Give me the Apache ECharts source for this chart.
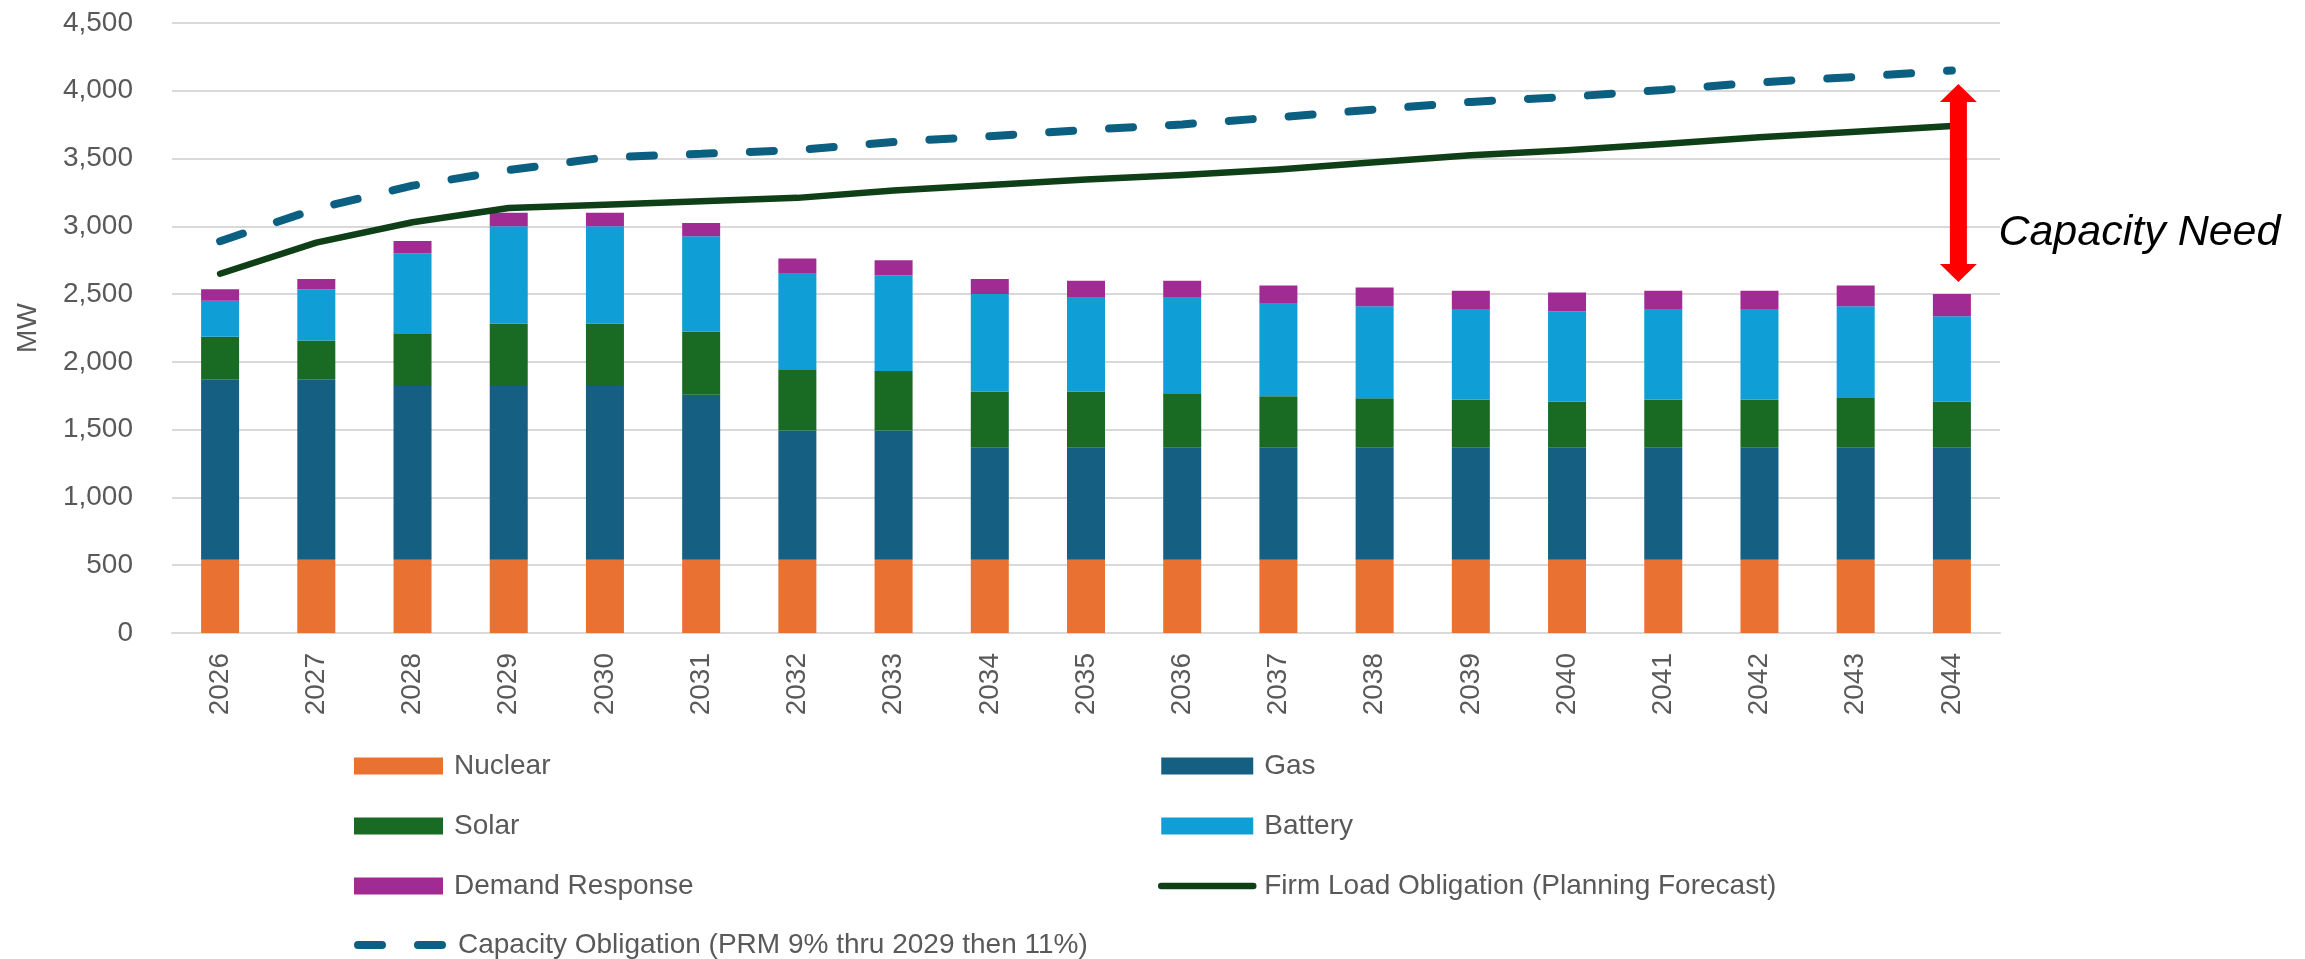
<!DOCTYPE html>
<html>
<head>
<meta charset="utf-8">
<title>Capacity Need</title>
<script src="https://cdn.jsdelivr.net/npm/echarts@6/dist/echarts.min.js"></script>
<style>
  html, body { margin: 0; padding: 0; background: #ffffff; }
  #chart { width: 2305px; height: 959px; }
</style>
</head>
<body>
<div id="chart"></div>
<script>
// Planning years on the category axis
const years = ['2026','2027','2028','2029','2030','2031','2032','2033','2034','2035',
               '2036','2037','2038','2039','2040','2041','2042','2043','2044'];

// Accredited capacity by resource type (MW, stacked)
const nuclear = [540,540,540,540,540,540,540,540,540,540,540,540,540,540,540,540,540,540,540];
const gas     = [1332,1332,1282,1282,1282,1217,954,954,826,826,826,826,826,826,826,826,826,826,826];
const solar   = [314,286,389,462,462,467,452,438,416,416,402,380,366,354,342,354,354,368,342];
const battery = [265,378,590,717,717,703,705,705,719,691,705,689,678,664,664,664,664,677,629];
const demandResponse = [85,76,90,100,100,98,112,112,111,126,126,128,139,140,140,140,140,152,163];

// Obligations (MW)
const firmLoad = [2650,2880,3030,3135,3160,3185,3210,3265,3305,3345,3378,3420,3472,3525,3562,3608,3658,3698,3740];
const capacityObligation = [2890,3130,3300,3415,3508,3535,3563,3622,3665,3712,3752,3805,3862,3918,3955,4006,4062,4102,4150];

// Value-axis ticks
const yTicks = { min: 0, max: 4500, interval: 500 };

// Capacity-need annotation: category index, arrow ends and label level (MW)
const needArrow = [[18, 2590, 4050, 2950]];
const needLabel = 'Capacity Need';

const NAME_FIRM = 'Firm Load Obligation (Planning Forecast)';
const NAME_CAP = 'Capacity Obligation (PRM 9% thru 2029 then 11%)';

const FONT = '"Liberation Sans", Arial, sans-serif';
const GREY = '#595959';
const GRID_GREY = '#d9d9d9';

const colors = {
  nuclear: '#E97132',
  gas: '#156082',
  solar: '#196B24',
  battery: '#0F9ED5',
  dr: '#A02B93',
  firm: '#0F3F17',
  cap: '#0B5F80'
};

const firmLine = { color: colors.firm, width: 6.5, cap: 'round', join: 'round' };
const capLine = { color: colors.cap, width: 8, type: [24, 36], cap: 'round' };

function barSeries(name, data, color) {
  return {
    name, type: 'bar', stack: 'capacity', data,
    barWidth: 38,
    itemStyle: { color },
    emphasis: { disabled: true },
    z: 2
  };
}

const legendText = { fontFamily: FONT, fontSize: 28, color: GREY, padding: [0, 0, 0, 6] };
function legendBlock(left, top, width, data) {
  return {
    orient: 'vertical', left, top, padding: 0,
    itemWidth: width, itemHeight: 17, itemGap: 32,
    selectedMode: false,
    icon: 'rect',
    textStyle: legendText,
    data
  };
}
// Line entries: keep the series line, hide the marker dot
function lineEntry(name, lineStyle) {
  return { name, icon: 'inherit', itemStyle: { opacity: 0 }, lineStyle };
}

const chart = echarts.init(document.getElementById('chart'), null, { renderer: 'canvas' });

chart.setOption({
  animation: false,
  backgroundColor: '#ffffff',
  grid: { left: 172, right: 305, top: 23, bottom: 326, containLabel: false },
  legend: [
    legendBlock(354, 752, 89, ['Nuclear', 'Solar', 'Demand Response']),
    legendBlock(354, 931, 89, [lineEntry(NAME_CAP, capLine)]),
    legendBlock(1158, 752, 92, ['Gas', 'Battery', lineEntry(NAME_FIRM, firmLine)])
  ],
  xAxis: {
    type: 'category',
    data: years,
    boundaryGap: true,
    axisLine: { lineStyle: { color: GRID_GREY, width: 2 } },
    axisTick: { show: false },
    axisLabel: { rotate: 90, margin: 20, fontFamily: FONT, fontSize: 28, color: GREY }
  },
  yAxis: {
    type: 'value',
    min: yTicks.min, max: yTicks.max, interval: yTicks.interval,
    name: 'MW',
    nameLocation: 'middle',
    nameGap: 130,
    nameTextStyle: { fontFamily: FONT, fontSize: 28, color: GREY },
    axisLine: { show: false },
    axisTick: { show: false },
    axisLabel: {
      margin: 39, fontFamily: FONT, fontSize: 28, color: GREY,
      formatter: v => v.toLocaleString('en-US')
    },
    splitLine: { lineStyle: { color: GRID_GREY, width: 2 } }
  },
  series: [
    barSeries('Nuclear', nuclear, colors.nuclear),
    barSeries('Gas', gas, colors.gas),
    barSeries('Solar', solar, colors.solar),
    barSeries('Battery', battery, colors.battery),
    barSeries('Demand Response', demandResponse, colors.dr),
    {
      name: NAME_FIRM,
      type: 'line', data: firmLoad,
      symbol: 'none',
      lineStyle: firmLine,
      itemStyle: { color: colors.firm },
      emphasis: { disabled: true },
      z: 5
    },
    {
      name: NAME_CAP,
      type: 'line', data: capacityObligation,
      symbol: 'none',
      lineStyle: capLine,
      itemStyle: { color: colors.cap },
      emphasis: { disabled: true },
      z: 5
    },
    {
      type: 'custom',
      data: needArrow,
      silent: true,
      z: 6,
      renderItem(params, api) {
        const top = api.coord([api.value(0), api.value(2)]);
        const bot = api.coord([api.value(0), api.value(1)]);
        const lab = api.coord([api.value(0), api.value(3)]);
        const x = top[0] + 6.5;
        const shaft = 8.5, head = 18.5, headLen = 18;
        const t = top[1], b = bot[1];
        return {
          type: 'group',
          children: [
            {
              type: 'polygon',
              shape: {
                points: [
                  [x - shaft, t + headLen], [x - head, t + headLen], [x, t],
                  [x + head, t + headLen], [x + shaft, t + headLen],
                  [x + shaft, b - headLen], [x + head, b - headLen], [x, b],
                  [x - head, b - headLen], [x - shaft, b - headLen]
                ]
              },
              style: { fill: '#FF0000' }
            },
            {
              type: 'text',
              x: x + 40, y: lab[1],
              style: {
                text: needLabel,
                fill: '#000000',
                font: 'italic 43px ' + FONT,
                verticalAlign: 'middle',
                align: 'left'
              }
            }
          ]
        };
      }
    }
  ]
});
</script>
</body>
</html>
